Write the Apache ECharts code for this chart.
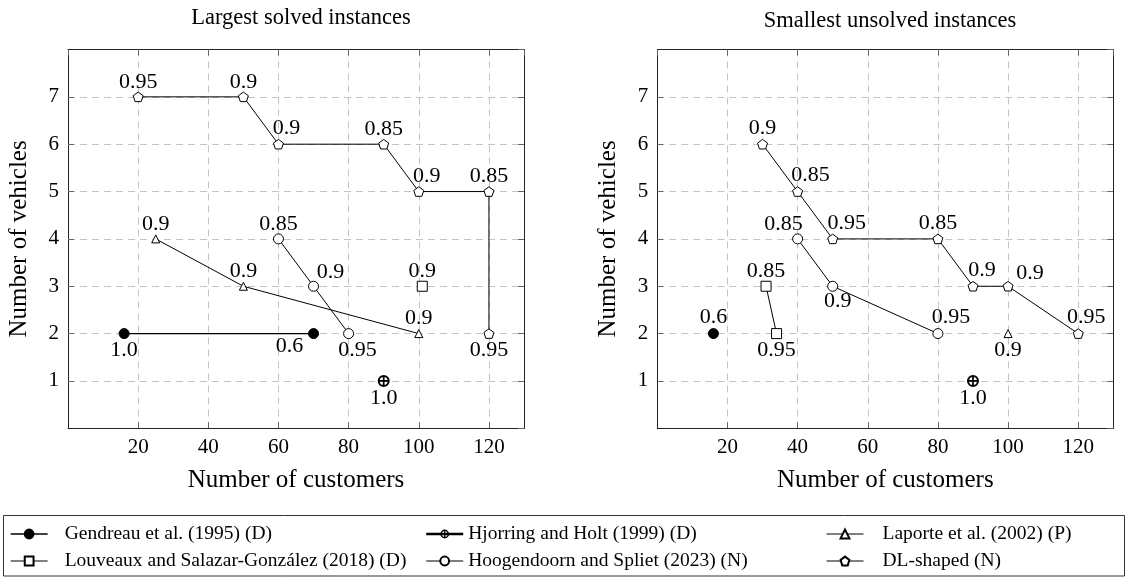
<!DOCTYPE html>
<html>
<head>
<meta charset="utf-8">
<script src="https://cdn.jsdelivr.net/npm/echarts@6/dist/echarts.min.js"></script>
<style>
html,body{margin:0;padding:0;background:#fff;}
#c{width:1128px;height:577px;}
</style>
</head>
<body>
<div id="c"></div>
<script>
// ---------------- data ----------------
const panelTitles = ['Largest solved instances', 'Smallest unsolved instances'];
const xAxisName = 'Number of customers';
const yAxisName = 'Number of vehicles';

const nGendreau = 'Gendreau et al. (1995) (D)';
const nHjorring = 'Hjorring and Holt (1999) (D)';
const nLaporte = 'Laporte et al. (2002) (P)';
const nLouveaux = 'Louveaux and Salazar-González (2018) (D)';
const nHoog = 'Hoogendoorn and Spliet (2023) (N)';
const nDL = 'DL-shaped (N)';

// Largest solved instances
const solvedGendreauX = [16, 70];
const solvedGendreauY = [2, 2];
const solvedGendreauAcc = ['1.0', '0.6'];
const solvedHjorringX = [90];
const solvedHjorringY = [1];
const solvedHjorringAcc = ['1.0'];
const solvedLaporteX = [25, 50, 100];
const solvedLaporteY = [4, 3, 2];
const solvedLaporteAcc = ['0.9', '0.9', '0.9'];
const solvedLouveauxX = [101];
const solvedLouveauxY = [3];
const solvedLouveauxAcc = ['0.9'];
const solvedHoogX = [60, 70, 80];
const solvedHoogY = [4, 3, 2];
const solvedHoogAcc = ['0.85', '0.9', '0.95'];
const solvedDLX = [20, 50, 60, 90, 100, 120, 120];
const solvedDLY = [7, 7, 6, 6, 5, 5, 2];
const solvedDLAcc = ['0.95', '0.9', '0.9', '0.85', '0.9', '0.85', '0.95'];

// Smallest unsolved instances
const unsolvedGendreauX = [16];
const unsolvedGendreauY = [2];
const unsolvedGendreauAcc = ['0.6'];
const unsolvedHjorringX = [90];
const unsolvedHjorringY = [1];
const unsolvedHjorringAcc = ['1.0'];
const unsolvedLaporteX = [100];
const unsolvedLaporteY = [2];
const unsolvedLaporteAcc = ['0.9'];
const unsolvedLouveauxX = [31, 34];
const unsolvedLouveauxY = [3, 2];
const unsolvedLouveauxAcc = ['0.85', '0.95'];
const unsolvedHoogX = [40, 50, 80];
const unsolvedHoogY = [4, 3, 2];
const unsolvedHoogAcc = ['0.85', '0.9', '0.95'];
const unsolvedDLX = [30, 40, 50, 80, 90, 100, 120];
const unsolvedDLY = [6, 5, 4, 4, 3, 3, 2];
const unsolvedDLAcc = ['0.9', '0.85', '0.95', '0.85', '0.9', '0.9', '0.95'];

// ---------------- label placement (pixel offsets, layout only) ----------------
const solvedGendreauLbl = [[0, 17], [-24, 13]];
const solvedHjorringLbl = [[0, 17]];
const solvedLaporteLbl = [[0, -15], [0, -15], [0, -15]];
const solvedLouveauxLbl = [[0, -15]];
const solvedHoogLbl = [[0, -15], [17, -14], [9, 17]];
const solvedDLLbl = [[0, -15], [0, -15], [8, -16], [0, -15], [8, -15], [0, -15], [0, 17]];
const unsolvedGendreauLbl = [[0, -16]];
const unsolvedHjorringLbl = [[0, 17]];
const unsolvedLaporteLbl = [[0, 17]];
const unsolvedLouveauxLbl = [[0, -15], [0, 17]];
const unsolvedHoogLbl = [[-14, -15], [5, 15], [13, -16]];
const unsolvedDLLbl = [[0, -16], [13, -16], [14, -16], [0, -16], [9, -16], [22, -13], [8, -16]];

// ---------------- styles ----------------
const FONT = '"Liberation Serif", "Times New Roman", serif';
const OPLUS = 'path://M10,0 A10,10 0 1,1 10,20 A10,10 0 1,1 10,0 Z M10,3.4 A6.6,6.6 0 1,0 10,16.6 A6.6,6.6 0 1,0 10,3.4 Z M8.6,1 L11.4,1 L11.4,19 L8.6,19 Z M1,8.6 L19,8.6 L19,11.4 L1,11.4 Z';
const PENTAGON = 'path://M10,0 L19.51,6.91 L15.88,18.09 L4.12,18.09 L0.49,6.91 Z';
const styles = {};
styles[nGendreau] = {symbol: 'circle', size: 10, fill: '#000', bw: 1, lw: 1.3};
styles[nHjorring] = {symbol: OPLUS, size: 12, fill: '#000', bw: 0, lw: 2.4};
styles[nLaporte] = {symbol: 'triangle', size: 8, fill: '#fff', bw: 1, lw: 1};
styles[nLouveaux] = {symbol: 'rect', size: 10, fill: '#fff', bw: 1, lw: 1};
styles[nHoog] = {symbol: 'circle', size: 10, fill: '#fff', bw: 1, lw: 1};
styles[nDL] = {symbol: PENTAGON, size: 10, fill: '#fff', bw: 1, lw: 1};

function mk(name, panel, xs, ys, acc, lbl) {
  const st = styles[name];
  return {
    type: 'line', name: name, xAxisIndex: panel, yAxisIndex: panel,
    data: xs.map((x, i) => ({
      value: [x, ys[i]],
      label: {formatter: acc[i], offset: lbl[i]}
    })),
    symbol: st.symbol, symbolSize: st.size, symbolKeepAspect: true,
    showAllSymbol: true, animation: false, clip: false,
    lineStyle: {color: '#000', width: st.lw},
    itemStyle: {color: st.fill, borderColor: '#000', borderWidth: st.bw},
    label: {show: true, position: 'inside', color: '#000', fontFamily: FONT, fontSize: 22,
            textBorderWidth: 0},
    emphasis: {disabled: true},
    z: 3
  };
}

const series = [
  mk(nGendreau, 0, solvedGendreauX, solvedGendreauY, solvedGendreauAcc, solvedGendreauLbl),
  mk(nHjorring, 0, solvedHjorringX, solvedHjorringY, solvedHjorringAcc, solvedHjorringLbl),
  mk(nLaporte, 0, solvedLaporteX, solvedLaporteY, solvedLaporteAcc, solvedLaporteLbl),
  mk(nLouveaux, 0, solvedLouveauxX, solvedLouveauxY, solvedLouveauxAcc, solvedLouveauxLbl),
  mk(nHoog, 0, solvedHoogX, solvedHoogY, solvedHoogAcc, solvedHoogLbl),
  mk(nDL, 0, solvedDLX, solvedDLY, solvedDLAcc, solvedDLLbl),
  mk(nGendreau, 1, unsolvedGendreauX, unsolvedGendreauY, unsolvedGendreauAcc, unsolvedGendreauLbl),
  mk(nHjorring, 1, unsolvedHjorringX, unsolvedHjorringY, unsolvedHjorringAcc, unsolvedHjorringLbl),
  mk(nLaporte, 1, unsolvedLaporteX, unsolvedLaporteY, unsolvedLaporteAcc, unsolvedLaporteLbl),
  mk(nLouveaux, 1, unsolvedLouveauxX, unsolvedLouveauxY, unsolvedLouveauxAcc, unsolvedLouveauxLbl),
  mk(nHoog, 1, unsolvedHoogX, unsolvedHoogY, unsolvedHoogAcc, unsolvedHoogLbl),
  mk(nDL, 1, unsolvedDLX, unsolvedDLY, unsolvedDLAcc, unsolvedDLLbl)
];

const FRAME = '#222';
const TICK = '#666';
const GRIDC = '#c4c4c4';
const tickStyle = {show: true, inside: false, length: -6, lineStyle: {color: TICK}};

function xMain(i) {
  return {
    type: 'value', gridIndex: i, position: 'bottom', min: 0, max: 130, interval: 20,
    axisLine: {show: true, onZero: false, lineStyle: {color: FRAME, width: 1}},
    axisTick: tickStyle,
    axisLabel: {showMinLabel: false, showMaxLabel: false, color: '#000', fontFamily: FONT, fontSize: 21, margin: 9},
    splitLine: {show: true, lineStyle: {color: GRIDC, type: [7, 5], width: 1}},
    name: xAxisName, nameLocation: 'middle', nameGap: 40,
    nameTextStyle: {color: '#000', fontFamily: FONT, fontSize: 25}
  };
}
function xTop(i) {
  return {
    type: 'value', gridIndex: i, position: 'top', min: 0, max: 130, interval: 20,
    axisLine: {show: true, onZero: false, lineStyle: {color: FRAME, width: 1}},
    axisTick: tickStyle,
    axisLabel: {show: false}, splitLine: {show: false}
  };
}
function yMain(i) {
  return {
    type: 'value', gridIndex: i, position: 'left', min: 0, max: 8, interval: 1,
    axisLine: {show: true, onZero: false, lineStyle: {color: FRAME, width: 1}},
    axisTick: tickStyle,
    axisLabel: {showMinLabel: false, showMaxLabel: false, color: '#000', fontFamily: FONT, fontSize: 21, margin: 9},
    splitLine: {show: true, lineStyle: {color: GRIDC, type: [7, 5], width: 1}},
    name: yAxisName, nameLocation: 'middle', nameGap: 36,
    nameTextStyle: {color: '#000', fontFamily: FONT, fontSize: 25}
  };
}
function yRight(i) {
  return {
    type: 'value', gridIndex: i, position: 'right', min: 0, max: 8, interval: 1,
    axisLine: {show: true, onZero: false, lineStyle: {color: FRAME, width: 1}},
    axisTick: tickStyle,
    axisLabel: {show: false}, splitLine: {show: false}
  };
}

function legItem(name) {
  return {name: name, lineStyle: {width: styles[name].lw, color: '#000'}};
}
function leg(left, names, padLeft) {
  return {
    left: left, top: 524, orient: 'vertical', itemGap: 7, itemWidth: 37, itemHeight: 11,
    selectedMode: false, data: names.map(legItem), padding: 0,
    textStyle: {color: '#000', fontFamily: FONT, fontSize: 19.5, lineHeight: 20, padding: [0, 0, 0, padLeft]}
  };
}

const option = {
  backgroundColor: '#fff',
  animation: false,
  title: [
    {text: panelTitles[0], left: 296, top: 2, textAlign: 'center',
     textStyle: {color: '#000', fontFamily: FONT, fontSize: 22.5, fontWeight: 'normal'}},
    {text: panelTitles[1], left: 885, top: 5, textAlign: 'center',
     textStyle: {color: '#000', fontFamily: FONT, fontSize: 22.5, fontWeight: 'normal'}}
  ],
  grid: [
    {left: 68, top: 49.5, width: 456, height: 378.8},
    {left: 657.3, top: 49.5, width: 456, height: 378.8}
  ],
  xAxis: [xMain(0), xMain(1), xTop(0), xTop(1)],
  yAxis: [yMain(0), yMain(1), yRight(0), yRight(1)],
  legend: [
    leg(10, [nGendreau, nLouveaux], 12),
    leg(425, [nHjorring, nHoog], 0),
    leg(826, [nLaporte, nDL], 14)
  ],
  graphic: [{
    type: 'rect', shape: {x: 3.5, y: 515.5, width: 1121, height: 60.5},
    style: {fill: 'none', stroke: '#333', lineWidth: 1}, silent: true
  }],
  series: series
};

const chart = echarts.init(document.getElementById('c'));
chart.setOption(option);
</script>
</body>
</html>
